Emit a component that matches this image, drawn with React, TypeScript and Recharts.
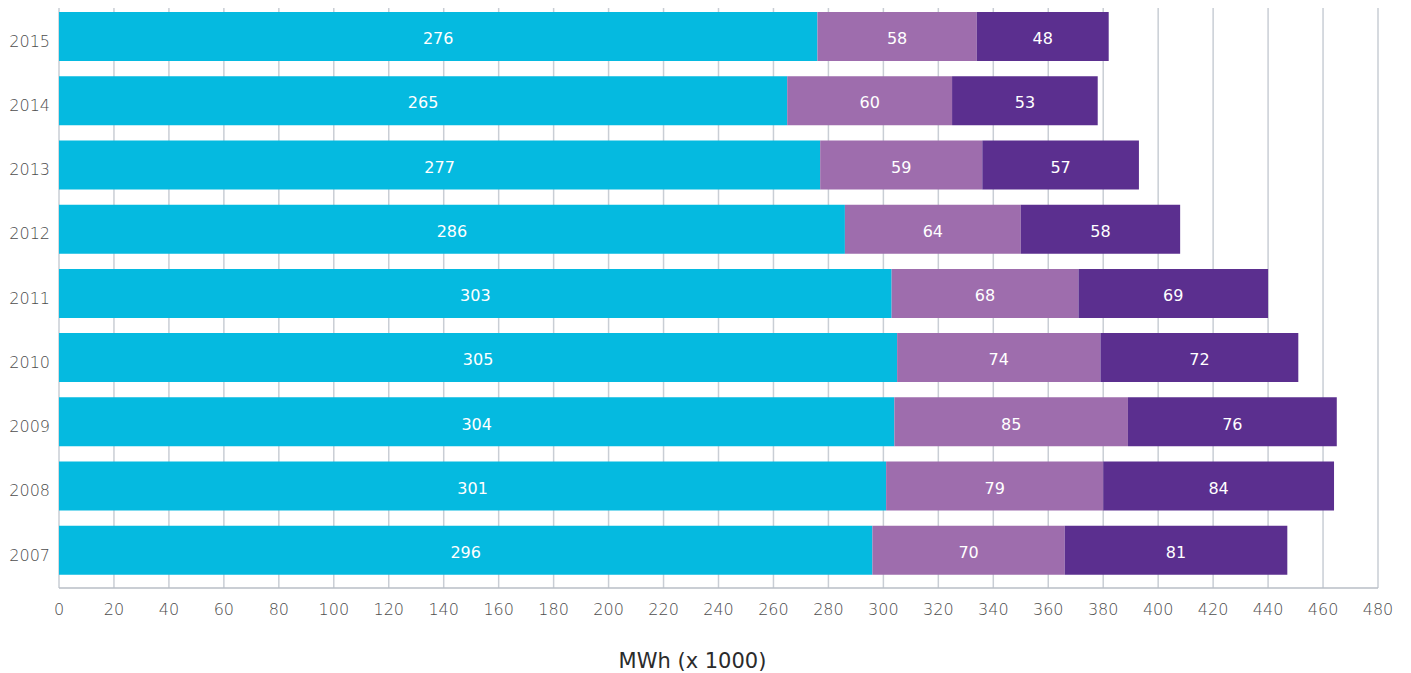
import { BarChart, Bar, XAxis, YAxis, CartesianGrid, LabelList } from 'recharts';

// Years, top to bottom as drawn
const years = ['2015', '2014', '2013', '2012', '2011', '2010', '2009', '2008', '2007'];
const cyanValues = [276, 265, 277, 286, 303, 305, 304, 301, 296];
const lightPurpleValues = [58, 60, 59, 64, 68, 74, 85, 79, 70];
const darkPurpleValues = [48, 53, 57, 58, 69, 72, 76, 84, 81];
const xTicks = [0, 20, 40, 60, 80, 100, 120, 140, 160, 180, 200, 220, 240, 260, 280, 300, 320, 340, 360, 380, 400, 420, 440, 460, 480];

const data = years.map((year, i) => ({
  year,
  a: cyanValues[i],
  b: lightPurpleValues[i],
  c: darkPurpleValues[i],
}));

const FONT = '"DejaVu Sans", sans-serif';
const xTickStyle = { fill: '#4d4d4d', fontSize: 16, fontFamily: FONT, fontWeight: 300 };
const yTickStyle = { ...xTickStyle, dy: 5 };
const labelStyle = { fill: '#fff', fontSize: 16, fontFamily: FONT };

export default function App() {
  return (
    <div style={{ margin: '-8px 0 0 -8px' }}>
      <BarChart
        width={1411}
        height={673}
        data={data}
        layout="vertical"
        margin={{ top: 4, right: 33, bottom: 0, left: 0 }}
      >
        <CartesianGrid horizontal={false} stroke="#C9CED5" strokeWidth={1.5} />
        <XAxis
          type="number"
          domain={[0, 480]}
          ticks={xTicks}
          interval={0}
          height={85}
          tickLine={false}
          tickSize={0}
          tickMargin={16}
          axisLine={{ stroke: '#B8BEC6', strokeWidth: 1.5 }}
          tick={xTickStyle}
          label={{
            value: 'MWh (x 1000)',
            position: 'insideBottom',
            offset: 5,
            dx: -26,
            style: { fill: '#2b2b2b', fontSize: 21, fontFamily: FONT },
          }}
        />
        <YAxis
          type="category"
          dataKey="year"
          width={59}
          padding={{ top: 0, bottom: 6 }}
          axisLine={false}
          tickLine={false}
          tickSize={0}
          tickMargin={9}
          tick={yTickStyle}
        />
        <Bar dataKey="a" stackId="s" fill="#05BAE0" barSize={49} isAnimationActive={false}>
          <LabelList dataKey="a" position="center" dy={2} style={labelStyle} />
        </Bar>
        <Bar dataKey="b" stackId="s" fill="#9E6DAD" barSize={49} isAnimationActive={false}>
          <LabelList dataKey="b" position="center" dy={2} style={labelStyle} />
        </Bar>
        <Bar dataKey="c" stackId="s" fill="#5B2F8F" barSize={49} isAnimationActive={false}>
          <LabelList dataKey="c" position="center" dy={2} style={labelStyle} />
        </Bar>
      </BarChart>
    </div>
  );
}
